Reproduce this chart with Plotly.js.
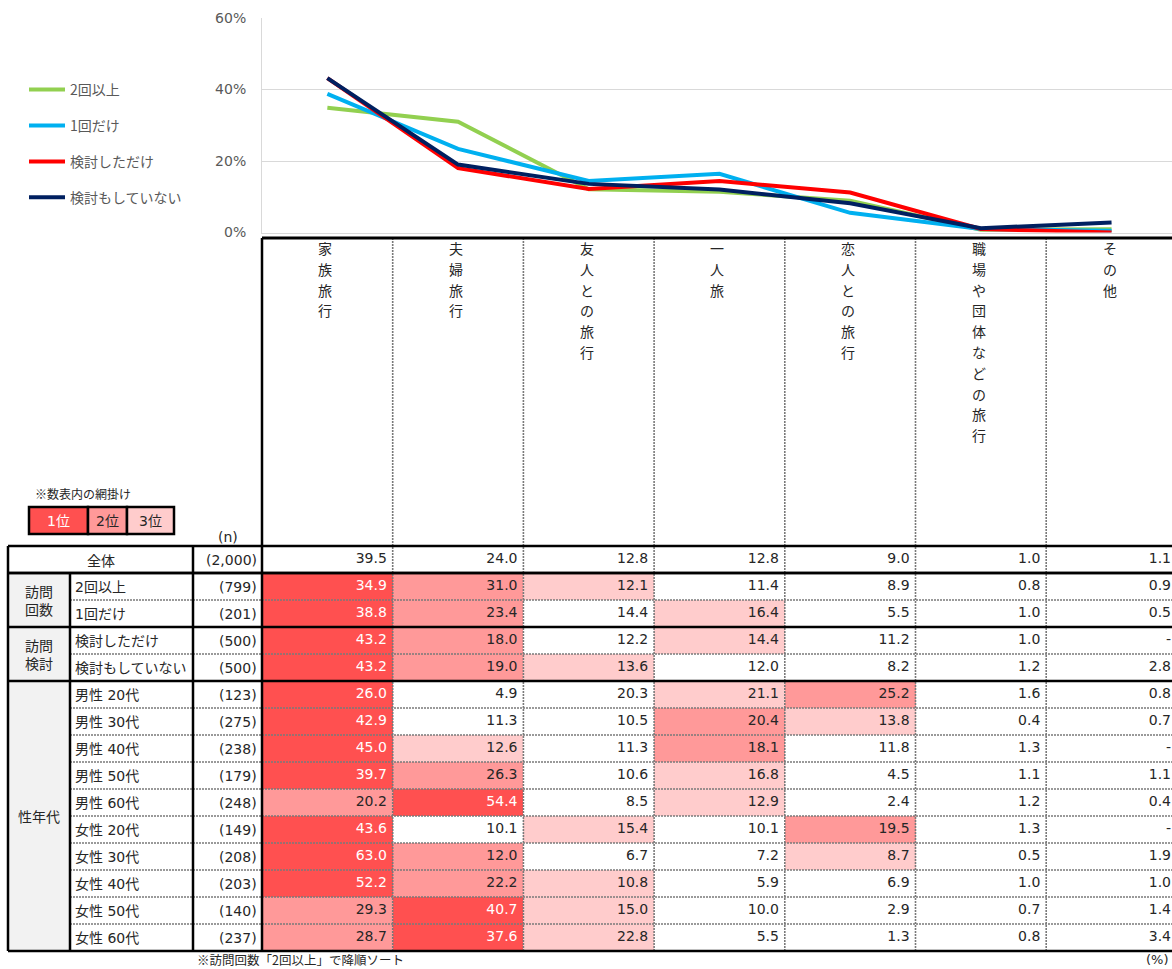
<!DOCTYPE html>
<html><head><meta charset="utf-8">
<script src="https://cdn.plot.ly/plotly-3.0.1.min.js"></script>
<style>body{margin:0;background:#fff}</style>
</head><body><div id="chart" style="width:1172px;height:969px"></div>
<script>
// ---------- data ----------
const categories = ['家族旅行','夫婦旅行','友人との旅行','一人旅','恋人との旅行','職場や団体などの旅行','その他'];
const seriesNames = ['2回以上','1回だけ','検討しただけ','検討もしていない'];
const seriesColors = ['#92D050','#00B0F0','#FF0000','#002060'];
const rowLabels = ['全体','2回以上','1回だけ','検討しただけ','検討もしていない','男性 20代','男性 30代','男性 40代','男性 50代','男性 60代','女性 20代','女性 30代','女性 40代','女性 50代','女性 60代'];
const nLabels = ['(2,000)','(799)','(201)','(500)','(500)','(123)','(275)','(238)','(179)','(248)','(149)','(208)','(203)','(140)','(237)'];
const groupLabels = ['訪問<br>回数','訪問<br>検討','性年代'];
const groupStarts = [1,3,5];
const groupEnds = [3,5,15];
const yTickVals = [0,20,40,60];
const yTickText = ['0%','20%','40%','60%'];
const total          = [39.5,24.0,12.8,12.8,9.0,1.0,1.1];
const visit2plus     = [34.9,31.0,12.1,11.4,8.9,0.8,0.9];
const visit1         = [38.8,23.4,14.4,16.4,5.5,1.0,0.5];
const consideredOnly = [43.2,18.0,12.2,14.4,11.2,1.0,null];
const notConsidered  = [43.2,19.0,13.6,12.0,8.2,1.2,2.8];
const male20   = [26.0,4.9,20.3,21.1,25.2,1.6,0.8];
const male30   = [42.9,11.3,10.5,20.4,13.8,0.4,0.7];
const male40   = [45.0,12.6,11.3,18.1,11.8,1.3,null];
const male50   = [39.7,26.3,10.6,16.8,4.5,1.1,1.1];
const male60   = [20.2,54.4,8.5,12.9,2.4,1.2,0.4];
const female20 = [43.6,10.1,15.4,10.1,19.5,1.3,null];
const female30 = [63.0,12.0,6.7,7.2,8.7,0.5,1.9];
const female40 = [52.2,22.2,10.8,5.9,6.9,1.0,1.0];
const female50 = [29.3,40.7,15.0,10.0,2.9,0.7,1.4];
const female60 = [28.7,37.6,22.8,5.5,1.3,0.8,3.4];
const tableRows = [total,visit2plus,visit1,consideredOnly,notConsidered,male20,male30,male40,male50,male60,female20,female30,female40,female50,female60];
const lineSeries = [visit2plus,visit1,consideredOnly,notConsidered];
const rankLegend = ['1位','2位','3位'];

// ---------- layout geometry ----------
const W = 1172, H = 969;
const COLW = 130.7, X0 = 262;   // data column width / left edge (px)
const ROWH = 27, Y0 = 546;      // row height / top of first row (px)
const px2x = p => (p - X0) / COLW;
const px2y = p => (p - Y0) / ROWH;
const FONT = '"DejaVu Sans","Noto Sans CJK JP",sans-serif';
const JFONT = '"Noto Sans CJK JP",sans-serif';
const rankColors = ['#FF5050','#FF9999','#FFCCCC'];
const xL = px2x(8), xG = px2x(70), xN = px2x(193), xR = px2x(W);
const nRows = tableRows.length;

// ranks (1..3) for shading, total row not shaded
const z = tableRows.map((row, r) => {
  if (r === 0) return row.map(() => 0);
  const sorted = row.map((v,j)=>[v==null?-1:v,j]).sort((a,b)=>b[0]-a[0]);
  const rk = row.map(()=>0);
  sorted.slice(0,3).forEach((s,k)=>{ rk[s[1]] = k+1; });
  return rk;
});

const traces = [];
// line chart
lineSeries.forEach((s,i)=>{
  traces.push({
    type:'scatter', mode:'lines', x:categories, y:s.map(v=>v==null?0:v),
    name:seriesNames[i], legendgroup:'g'+i,
    line:{color:seriesColors[i], width:4}, xaxis:'x', yaxis:'y', hoverinfo:'skip'
  });
});
// heat cells
traces.push({
  type:'heatmap', xaxis:'x2', yaxis:'y2',
  x:categories.map((_,j)=>j+0.5), y:tableRows.map((_,r)=>r+0.5), z:z,
  zmin:0, zmax:3, showscale:false, hoverinfo:'skip',
  colorscale:[[0,'#FFFFFF'],[0.1667,'#FFFFFF'],[0.1667,rankColors[0]],[0.5,rankColors[0]],[0.5,rankColors[1]],[0.8333,rankColors[1]],[0.8333,rankColors[2]],[1,rankColors[2]]],
  showlegend:false
});
// cell values
const tx=[],ty=[],tt=[],tc=[];
tableRows.forEach((row,r)=>row.forEach((v,j)=>{
  tx.push(j+0.955); ty.push(r+0.5);
  tt.push(v==null?'-':v.toFixed(1));
  tc.push(z[r][j]===1?'#FFFFFF':'#262626');
}));
traces.push({type:'scatter', mode:'text', xaxis:'x2', yaxis:'y2', x:tx, y:ty, text:tt,
  textposition:'middle left', textfont:{family:FONT,size:14,color:tc}, showlegend:false, hoverinfo:'skip'});

// ---------- shapes ----------
const shapes = [];
const blk = {color:'#000000', width:2.5};
const dot = {color:'#7A7A7A', width:1.6, dash:'2px,1px'};
function hl(y,x1,x2,line){ shapes.push({type:'line',xref:'x2',yref:'y2',x0:x1,x1:x2,y0:y,y1:y,line:line,layer:'above'}); }
function vl(x,y1,y2,line){ shapes.push({type:'line',xref:'x2',yref:'y2',x0:x,x1:x,y0:y1,y1:y2,line:line,layer:'above'}); }
// group column background
groupStarts.forEach((s,g)=>shapes.push({type:'rect',xref:'x2',yref:'y2',x0:xL,x1:xG,y0:s,y1:groupEnds[g],fillcolor:'#F2F2F2',line:{width:0},layer:'below'}));
// horizontal row lines
for (let r=2;r<nRows;r++){ if(!groupStarts.includes(r)) hl(r,xG,xR,dot); }
// vertical dotted data column separators
const yHead = px2y(238);
for (let j=1;j<categories.length;j++) vl(j,yHead,nRows,dot);
hl(0,xL,xR,blk); hl(1,xL,xR,blk); groupStarts.forEach(s=>hl(s,xL,xR,blk)); hl(nRows,xL,xR,blk);
vl(xL,0,nRows,blk); vl(xG,1,nRows,blk); vl(xN,0,nRows,blk); vl(0,yHead,nRows,blk);
hl(yHead,0,xR,{color:'#000000',width:3});
// rank legend boxes
const boxEdges = [29,88,127,174];
rankLegend.forEach((t,k)=>shapes.push({type:'rect',xref:'x2',yref:'y2',x0:px2x(boxEdges[k]),x1:px2x(boxEdges[k+1]),y0:px2y(507),y1:px2y(534),fillcolor:rankColors[k],line:{color:'#000000',width:2.5},layer:'above'}));

// ---------- annotations ----------
const ann = [];
function A(x,y,text,o){ ann.push(Object.assign({xref:'x2',yref:'y2',x:x,y:y,text:text,showarrow:false,font:{family:FONT,size:14,color:'#262626'}},o||{})); }
// vertical column headers
categories.forEach((c,j)=>{
  Array.from(c).forEach((ch,i)=>A(j+0.5-2/COLW, px2y(248+20.8*i), ch, {font:{family:JFONT,size:14,color:'#262626'}}));
});
// row labels and n
rowLabels.forEach((l,r)=>{
  if (r===0) A((xL+xN)/2, r+0.5, l, {font:{family:JFONT,size:14,color:'#262626'}});
  else A(px2x(73), r+0.5, l, {xanchor:'left', font:{family:FONT,size:14,color:'#262626'}});
  A(px2x(259), r+0.5, nLabels[r], {xanchor:'right'});
});
groupLabels.forEach((g,k)=>A((xL+xG)/2,(groupStarts[k]+groupEnds[k])/2,g,{font:{family:JFONT,size:14,color:'#262626'}}));
A(px2x(228), px2y(537), '(n)');
A(px2x(33), px2y(493), '※数表内の網掛け', {xanchor:'left', font:{family:JFONT,size:12,color:'#262626'}});
rankLegend.forEach((t,k)=>A(px2x((boxEdges[k]+boxEdges[k+1])/2), px2y(521), t, {font:{family:FONT,size:14,color:k===0?'#FFFFFF':'#262626'}}));
A(px2x(195), px2y(959), '※訪問回数「2回以上」で降順ソート', {xanchor:'left', font:{family:JFONT,size:12.5,color:'#262626'}});
A(px2x(1171), px2y(959), '(%)', {xanchor:'right', font:{family:FONT,size:13,color:'#262626'}});

const layout = {
  width:W, height:H, margin:{l:0,r:0,t:0,b:0}, paper_bgcolor:'#FFFFFF', plot_bgcolor:'rgba(0,0,0,0)',
  hovermode:false, showlegend:true,
  legend:{x:24/W, xanchor:'left', y:1-74/H, yanchor:'top', font:{family:JFONT,size:14,color:'#595959'}, tracegroupgap:14.7, itemwidth:36, bgcolor:'rgba(0,0,0,0)'},
  xaxis:{domain:[X0/W,1], type:'category', range:[-0.5,(W-X0)/COLW-0.5], showticklabels:false, showgrid:false, zeroline:false,
         showline:true, linecolor:'#D9D9D9', linewidth:1, fixedrange:true, anchor:'y'},
  yaxis:{domain:[1-232.5/H,1-18/H], range:[0,60], tickmode:'array', tickvals:yTickVals, ticktext:yTickText, showgrid:true, gridcolor:'#D9D9D9',
         zeroline:false, showline:true, linecolor:'#D9D9D9', ticks:'', ticklabelstandoff:12,
         tickfont:{family:FONT,size:14,color:'#595959'}, fixedrange:true, anchor:'x'},
  xaxis2:{domain:[0,1], range:[px2x(0),px2x(W)], visible:false, fixedrange:true, anchor:'y2'},
  yaxis2:{domain:[0,1], range:[px2y(H),px2y(0)], visible:false, fixedrange:true, anchor:'x2'},
  shapes:shapes, annotations:ann
};
Plotly.newPlot('chart', traces, layout, {displayModeBar:false, staticPlot:true});
</script></body></html>
